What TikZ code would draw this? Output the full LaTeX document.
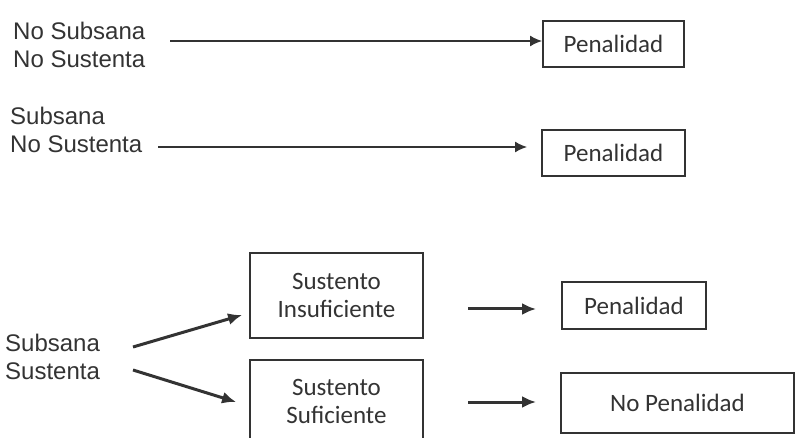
\documentclass[tikz,border=0pt]{standalone}
\usepackage{fontspec}
\setmainfont{Liberation Sans}
\newfontfamily\boxfont{Carlito}
\usetikzlibrary{arrows.meta}
\definecolor{ink}{HTML}{333333}
\begin{document}
\begin{tikzpicture}[x=1pt,y=-1pt,
  lbl/.style={align=left, font=\fontsize{24}{28}\selectfont, text=ink, inner sep=0pt},
  box/.style={draw=ink, line width=1.8pt, font=\boxfont\fontsize{25}{28}\selectfont, text=ink, align=center, inner sep=0pt},
  thinarrow/.style={draw=ink, line width=1.8pt, -{Latex[length=12pt,width=11pt]}},
  thickarrow/.style={draw=ink, line width=3pt, -{Latex[length=14pt,width=12pt]}}]
\useasboundingbox (0,0) rectangle (795,438);

\node[lbl, anchor=west] (t1) at (13,45) {No Subsana\\No Sustenta};
\node[lbl, anchor=west] (t2) at (10,130) {Subsana\\No Sustenta};
\node[lbl, anchor=west] (t3) at (5,357) {Subsana\\Sustenta};

\node[box, minimum width=141pt, minimum height=46pt] (b1) at (613.5,44) {Penalidad};
\node[box, minimum width=143pt, minimum height=46pt] (b2) at (613.5,153) {Penalidad};
\node[box, minimum width=173pt, minimum height=85pt] (b3) at (336.5,295.5) {Sustento\\Insuficiente};
\node[box, minimum width=173pt, minimum height=82pt] (b4) at (336.5,401) {Sustento\\Suficiente};
\node[box, minimum width=144pt, minimum height=47pt] (b5) at (634,305.5) {Penalidad};
\node[box, minimum width=233pt, minimum height=60pt] (b6) at (677.5,403) {No Penalidad};

\coordinate (s1) at (170,41);
\coordinate (s2) at (158,147);
\coordinate (s3) at (133,347);
\coordinate (s4) at (133,370);
\coordinate (s5) at (468,309);
\coordinate (s6) at (468,402);

\draw[thinarrow] (s1) -- (b1.west |- s1);
\draw[thinarrow] (s2) -- ([xshift=-14pt]b2.west |- s2);
\draw[thickarrow] (s3) -- ([xshift=-7pt,yshift=-19.5pt]b3.west);
\draw[thickarrow] (s4) -- ([xshift=-13pt,yshift=-1pt]b4.west);
\draw[thickarrow] (s5) -- ([xshift=-25pt]b5.west |- s5);
\draw[thickarrow] (s6) -- ([xshift=-24pt]b6.west |- s6);
\end{tikzpicture}
\end{document}
